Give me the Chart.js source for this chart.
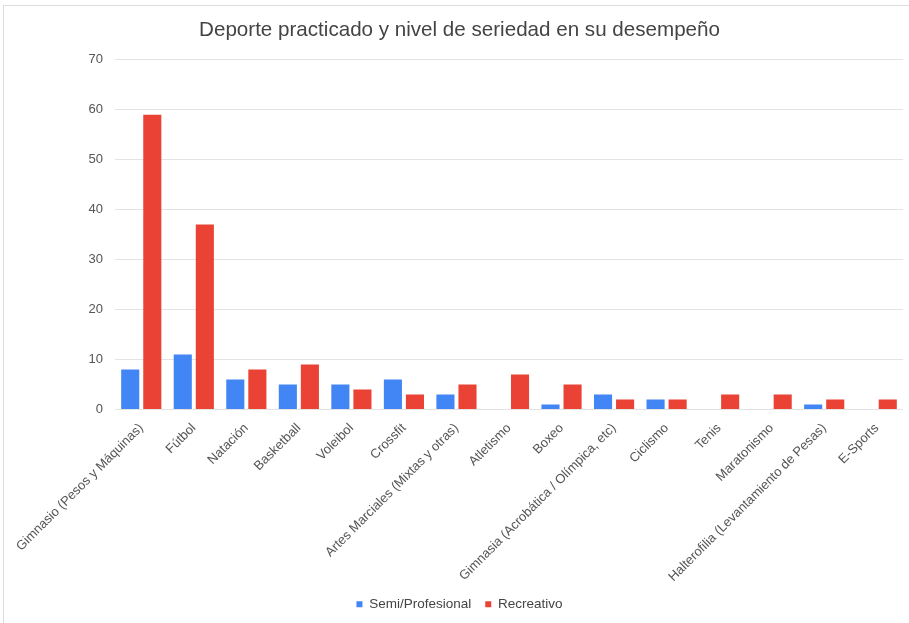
<!DOCTYPE html>
<html>
<head>
<meta charset="utf-8">
<script src="https://cdn.jsdelivr.net/npm/chart.js@4/dist/chart.umd.min.js"></script>
<style>
  html, body { margin: 0; padding: 0; background: #fff; }
  #frame {
    position: absolute; left: 3px; top: 5px; width: 906px; height: 618px;
    border-top: 1px solid #dcdcdc; border-left: 1px solid #dcdcdc;
    box-sizing: border-box;
  }
  #chart { display: block; }
</style>
</head>
<body>
<div id="frame"><canvas id="chart" width="905" height="617"></canvas></div>
<script>
const categories = [
  'Gimnasio (Pesos y Máquinas)', 'Fútbol', 'Natación', 'Basketball', 'Voleibol',
  'Crossfit', 'Artes Marciales (Mixtas y otras)', 'Atletismo', 'Boxeo',
  'Gimnasia (Acrobática / Olímpica, etc)', 'Ciclismo', 'Tenis', 'Maratonismo',
  'Halterofilia (Levantamiento de Pesas)', 'E-Sports'
];
const semiProfesional = [8, 11, 6, 5, 5, 6, 3, 0, 1, 3, 2, 0, 0, 1, 0];
const recreativo      = [59, 37, 8, 9, 4, 3, 5, 7, 5, 2, 2, 3, 3, 2, 2];
const yTicks = [0, 10, 20, 30, 40, 50, 60, 70];

const FONT = "'Liberation Sans', Arial, sans-serif";

new Chart(document.getElementById('chart'), {
  type: 'bar',
  data: {
    labels: categories,
    datasets: [
      { label: 'Semi/Profesional', data: semiProfesional, backgroundColor: '#4285F4' },
      { label: 'Recreativo', data: recreativo, backgroundColor: '#EA4335' }
    ]
  },
  options: {
    responsive: false,
    animation: false,
    devicePixelRatio: 1,
    layout: { padding: { left: 12, right: 6, top: 6, bottom: 2 } },
    datasets: { bar: { categoryPercentage: 0.84, barPercentage: 0.82 } },
    plugins: {
      title: {
        display: true,
        text: 'Deporte practicado y nivel de seriedad en su desempeño',
        color: '#444',
        font: { family: FONT, size: 20.6, weight: 'normal' },
        padding: { top: 6, bottom: 17 }
      },
      legend: {
        position: 'bottom',
        labels: {
          color: '#444',
          font: { family: FONT, size: 13.5 },
          boxWidth: 6, boxHeight: 6, padding: 14
        }
      },
      tooltip: { enabled: false }
    },
    scales: {
      x: {
        grid: { display: false },
        border: { display: false },
        ticks: {
          color: '#555', font: { family: FONT, size: 13 },
          minRotation: 45, maxRotation: 45, autoSkip: false
        },
        afterFit(scale) { scale.height = 174; }
      },
      y: {
        min: 0, max: 70,
        afterBuildTicks(scale) { scale.ticks = yTicks.map(v => ({ value: v })); },
        grid: { color: '#e3e3e3', drawTicks: false },
        border: { display: false },
        ticks: {
          color: '#555', font: { family: FONT, size: 13 }, padding: 12
        },
        afterFit(scale) { scale.width = 99; }
      }
    }
  }
});
</script>
</body>
</html>
